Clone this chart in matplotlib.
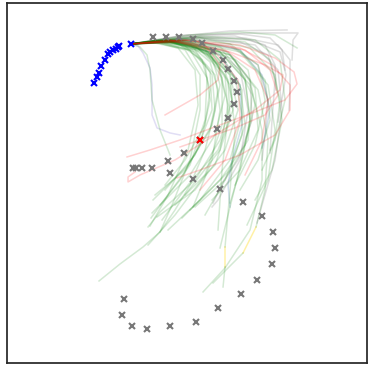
import matplotlib
matplotlib.use("Agg")
import matplotlib.pyplot as plt

# observed past track (blue) and ground-truth future (gray), metres
past_x = [9.43, 9.67, 9.85, 10.12, 10.5, 10.8, 11.0, 11.3, 11.55, 11.75, 11.93, 13.1]
past_y = [28.67, 29.3, 29.67, 30.44, 30.95, 31.62, 31.83, 31.97, 32.1, 32.25, 32.38, 32.57]

future_x = [15.33, 16.57, 17.9, 19.33, 20.23, 21.33, 22.33, 22.77, 23.43, 23.65, 23.43, 22.77,
            21.67, 20.0, 18.43, 16.83, 15.23, 14.15, 13.6, 13.25,
            17.0, 19.33, 22.0, 24.33, 26.23, 27.33, 27.53, 27.17, 25.73, 24.13, 21.83,
            19.57, 17.03, 14.7, 13.17, 12.23, 12.43]
future_y = [33.33, 33.33, 33.33, 33.07, 32.67, 31.9, 31.0, 30.07, 28.9, 27.75, 26.57, 25.17,
            24.07, 23.0, 21.73, 20.87, 20.23, 20.23, 20.17, 20.17,
            19.67, 19.07, 18.07, 16.77, 15.4, 13.77, 12.17, 10.57, 9.0, 7.57, 6.17,
            4.77, 4.37, 4.07, 4.37, 5.5, 7.07]

current_x = [20.0]
current_y = [23.0]

# sampled predictions
green_paths = [
    [(13.1, 32.6), (16.5, 33.0), (19.5, 32.0), (21.2, 29.5), (21.5, 26.0), (20.5, 22.0), (19.0, 18.5),
     (17.5, 16.0), (16.0, 13.8), (14.3, 12.3), (12.0, 10.6), (9.9, 8.9)],
    [(13.1, 32.6), (16.5, 33.0), (20.0, 32.2), (22.5, 30.0), (23.2, 27.0), (22.0, 23.0), (19.5, 19.0),
     (16.0, 15.8), (14.8, 14.3)],
    [(13.1, 32.6), (16.0, 32.9), (19.5, 32.4), (21.8, 30.5), (22.5, 27.5), (21.5, 23.5), (19.0, 19.5),
     (15.2, 15.7)],
    [(13.1, 32.6), (15.8, 33.0), (19.0, 32.6), (21.2, 31.2), (22.0, 28.5), (21.2, 24.5), (18.8, 20.5),
     (15.3, 17.0)],
    [(13.1, 32.6), (16.5, 32.9), (20.5, 32.0), (23.0, 29.5), (23.8, 26.0), (22.5, 22.0), (19.5, 18.0),
     (15.7, 15.3)],
    [(13.1, 32.6), (17.0, 33.0), (21.0, 32.0), (23.5, 29.2), (24.2, 25.5), (23.0, 21.0), (20.0, 17.0),
     (16.8, 14.0)],
    [(13.1, 32.6), (17.2, 32.8), (21.5, 31.5), (24.0, 28.5), (24.5, 24.5), (23.0, 20.0), (18.2, 15.2)],
    [(13.1, 32.6), (16.0, 32.8), (19.5, 31.8), (21.5, 29.5), (22.0, 26.0), (21.2, 21.0), (19.3, 16.3)],
    [(13.1, 32.6), (17.5, 33.0), (22.0, 31.8), (25.0, 28.5), (26.2, 24.0), (26.2, 19.0), (25.0, 14.0),
     (22.5, 10.2), (20.3, 7.8)],
    [(13.1, 32.6), (18.0, 32.9), (23.0, 31.5), (25.8, 28.0), (26.8, 23.0), (26.5, 18.0), (25.6, 14.3)],
    [(24.3, 11.7), (21.3, 8.7)],
    [(13.1, 32.6), (17.0, 32.8), (21.0, 31.5), (23.0, 28.5), (23.5, 24.0), (23.0, 18.0), (22.5, 12.3)],
    [(22.5, 10.3), (22.3, 8.3)],
    [(13.1, 32.6), (16.5, 33.0), (20.5, 32.2), (22.5, 29.5), (22.8, 25.5), (22.2, 20.0), (21.8, 14.0)],
    [(13.1, 32.6), (18.5, 33.0), (24.0, 31.8), (26.8, 28.5), (27.5, 24.0), (26.8, 19.0), (24.7, 14.5)],
    [(13.1, 32.6), (17.5, 32.9), (22.0, 31.8), (24.5, 29.0), (25.0, 25.0), (23.8, 19.5), (22.8, 15.5),
     (22.0, 12.2)],
    [(13.1, 32.6), (15.5, 32.8), (18.5, 32.0), (20.0, 29.5), (20.0, 26.0), (19.0, 21.0), (17.2, 16.5),
     (16.0, 13.8)],
    [(13.1, 32.6), (15.0, 32.8), (17.8, 32.2), (19.5, 30.0), (19.8, 26.5), (18.8, 22.0), (16.8, 17.5),
     (15.0, 14.4)],
    [(13.1, 32.6), (15.8, 32.7), (19.0, 32.0), (20.7, 29.2), (20.5, 25.0), (19.0, 20.5), (15.1, 15.2)],
    [(13.1, 32.6), (16.8, 32.9), (20.5, 32.0), (22.2, 29.2), (22.2, 24.5), (20.5, 19.5), (17.5, 15.5),
     (14.8, 12.5)],
    [(13.1, 32.6), (19.0, 32.8), (23.5, 31.0), (25.2, 27.5), (24.8, 23.0), (22.5, 19.0), (19.5, 16.3)],
    [(13.1, 32.6), (18.0, 33.0), (22.2, 32.0), (24.5, 29.2), (25.0, 25.0), (24.0, 20.0), (23.0, 16.7)],
    [(13.1, 32.6), (20.0, 33.2), (25.0, 32.2), (27.5, 29.5), (28.2, 25.0), (27.2, 20.0), (25.5, 17.0)],
    [(13.1, 32.6), (19.5, 33.3), (24.5, 32.8), (27.0, 31.0), (28.0, 27.0), (27.5, 23.0), (26.2, 20.0)],
    [(13.1, 32.6), (19.0, 33.5), (24.0, 33.8), (27.5, 33.5), (29.7, 32.2)],
    [(13.1, 32.6), (14.0, 32.3), (14.7, 31.5), (15.0, 30.0), (15.2, 27.0), (16.0, 24.0), (17.0, 21.5)],
    [(13.1, 32.6), (16.8, 32.8), (20.8, 31.8), (22.8, 29.0), (23.0, 25.0), (21.5, 20.5), (17.5, 16.5)],
    [(13.1, 32.6), (16.2, 32.9), (19.8, 32.2), (22.0, 30.0), (22.8, 26.5), (22.0, 22.0), (18.5, 17.5)],
    [(13.1, 32.6), (17.8, 32.8), (22.2, 31.4), (24.2, 28.0), (24.2, 23.5), (22.5, 19.0), (20.5, 15.5)],
    [(13.1, 32.6), (16.0, 32.8), (19.2, 32.0), (21.0, 29.8), (21.2, 26.0), (19.5, 21.5), (16.5, 18.0)],
    [(13.1, 32.6), (18.5, 32.9), (23.0, 31.5), (25.5, 28.2), (25.8, 24.0), (24.0, 20.0), (21.2, 17.0)],
    [(13.1, 32.6), (19.0, 33.0), (24.0, 32.0), (26.5, 29.0), (27.0, 25.0), (25.8, 21.0), (24.0, 18.0)],
    [(13.1, 32.6), (15.5, 32.9), (18.5, 32.4), (20.5, 30.5), (21.0, 27.0), (20.0, 22.5), (18.0, 19.0),
     (16.0, 16.5)],
    [(13.1, 32.6), (20.0, 33.4), (25.5, 33.0), (28.0, 31.0), (28.5, 27.0), (27.8, 24.0), (27.0, 22.0)],
    [(13.1, 32.6), (16.0, 33.0), (19.0, 32.5), (21.0, 30.8), (21.8, 28.0), (21.0, 24.0), (18.5, 20.0),
     (15.5, 17.5)],
    [(13.1, 32.6), (17.0, 32.9), (21.0, 31.8), (23.0, 29.5), (23.3, 26.0), (21.8, 22.0), (18.8, 18.5),
     (16.2, 15.0)],
    [(13.1, 32.6), (17.5, 33.1), (22.0, 32.3), (24.8, 30.0), (25.5, 26.5), (24.5, 22.5), (22.0, 19.0),
     (19.0, 16.0)],
    [(13.1, 32.6), (15.2, 32.9), (18.0, 32.5), (20.2, 31.0), (21.0, 28.0), (20.5, 24.5), (18.5, 21.0),
     (16.5, 18.5)],
    [(13.1, 32.6), (18.0, 33.2), (23.0, 32.6), (25.8, 30.5), (26.5, 27.0), (25.5, 22.5), (23.5, 18.5)],
]

red_paths = [
    [(13.1, 32.6), (18.0, 33.0), (24.0, 32.5), (27.5, 31.2), (29.4, 29.8), (29.7, 28.6), (28.5, 27.0),
     (25.5, 25.8), (22.0, 24.5), (18.0, 23.0), (15.0, 22.0), (12.7, 21.3)],
    [(13.1, 32.6), (17.5, 32.8), (23.0, 31.8), (26.5, 30.5), (28.3, 29.5), (28.0, 28.0), (25.5, 26.0),
     (21.5, 23.5), (17.5, 21.0), (14.0, 19.5), (12.8, 18.8), (12.8, 19.3), (13.5, 19.8)],
    [(13.1, 32.6), (17.0, 33.0), (20.5, 32.5), (22.0, 30.5), (21.8, 29.0), (20.0, 27.5), (16.5, 25.5)],
    [(13.1, 32.6), (19.0, 33.0), (24.5, 32.0), (27.0, 30.0), (27.8, 27.5), (26.5, 25.5), (23.5, 24.2),
     (20.0, 23.0), (18.0, 22.3)],
    [(13.1, 32.6), (18.5, 33.0), (24.0, 32.2), (27.2, 30.5), (29.0, 28.5), (29.0, 26.0), (27.5, 23.5),
     (24.0, 21.5), (20.0, 20.0), (17.7, 19.2)],
    [(13.1, 32.6), (17.0, 33.0), (21.5, 31.8), (23.8, 29.0), (24.0, 25.0), (22.5, 21.0), (20.0, 18.0)],
    [(13.1, 32.6), (18.0, 32.8), (22.5, 32.0), (25.5, 30.0), (26.8, 27.0), (26.2, 23.0), (24.5, 19.5)],
]

gray_paths = [
    [(13.1, 32.6), (18.0, 33.4), (23.0, 33.9), (28.7, 34.0)],
    [(13.1, 32.6), (19.0, 33.4), (25.0, 33.7), (29.8, 33.7), (29.3, 33.0), (29.2, 31.0)],
    [(13.1, 32.6), (19.0, 33.2), (24.5, 33.2), (27.8, 32.5), (29.0, 31.0), (29.0, 28.2), (28.9, 26.0)],
    [(13.1, 32.6), (18.5, 33.1), (24.0, 32.8), (26.8, 31.5), (27.5, 29.0), (27.2, 25.0), (27.0, 21.7)],
    [(13.1, 32.6), (17.5, 33.0), (23.0, 32.4), (25.8, 30.5), (26.8, 27.0), (26.5, 23.5), (26.2, 21.0)],
    [(13.1, 32.6), (17.0, 33.0), (21.5, 32.2), (24.0, 30.0), (24.8, 26.0), (24.0, 21.0), (21.8, 17.0),
     (21.2, 16.3)],
    [(13.1, 32.6), (19.5, 33.3), (25.0, 33.0), (28.0, 31.8), (28.6, 29.5), (28.0, 26.0), (27.8, 24.8)],
    [(13.1, 32.6), (18.0, 32.9), (22.8, 31.8), (25.0, 29.0), (25.2, 25.0), (23.8, 21.0), (22.4, 19.0),
     (21.3, 16.7)],
    [(13.1, 32.6), (20.0, 33.2), (25.5, 32.5), (27.8, 30.0), (28.2, 26.0), (27.5, 21.0), (26.2, 16.5),
     (25.7, 14.7)],
    [(13.1, 32.6), (18.5, 33.5), (24.0, 33.6), (27.0, 33.2), (28.2, 32.0), (28.5, 30.0)],
    [(13.1, 32.6), (18.0, 33.3), (23.5, 33.4), (26.5, 32.5), (27.5, 30.5), (27.6, 28.0)],
]

blue_paths = [
    [(13.1, 32.6), (19.0, 33.0), (24.0, 32.0), (26.2, 29.5), (27.0, 26.0), (26.5, 23.5), (26.2, 22.2)],
    [(13.1, 32.6), (17.5, 32.8), (22.0, 31.5), (24.0, 28.5), (24.2, 24.5), (23.2, 21.0), (22.8, 18.5),
     (23.0, 16.3)],
]

purple_paths = [
    [(13.1, 32.6), (13.8, 32.4), (14.3, 31.7), (15.0, 30.2), (15.2, 28.5), (15.2, 25.5), (15.7, 24.2),
     (17.0, 23.7), (18.0, 23.5)],
]

yellow_paths = [
    [(25.6, 14.3), (24.3, 11.7)],
    [(22.5, 12.3), (22.5, 10.3)],
]

fig, ax = plt.subplots(figsize=(3.7, 3.7), dpi=100)
fig.subplots_adjust(left=0.019, right=0.992, bottom=0.019, top=0.992)

def draw(paths, color, alpha):
    for p in paths:
        xs = [pt[0] for pt in p]
        ys = [pt[1] for pt in p]
        ax.plot(xs, ys, color=color, alpha=alpha, lw=1.1)

draw(gray_paths, "gray", 0.25)
draw(blue_paths, "steelblue", 0.25)
draw(purple_paths, "slateblue", 0.2)
draw(yellow_paths, "gold", 0.35)
draw(green_paths, "green", 0.17)
draw(red_paths, "red", 0.18)

ax.plot(future_x, future_y, "x", color="#777777", ms=5, mew=1.5, ls="none")
ax.plot(past_x, past_y, "x", color="blue", ms=5, mew=1.5, ls="none")
ax.plot(current_x, current_y, "x", color="red", ms=5, mew=1.5, ls="none")

ax.set_xlim(0.7, 36.7)
ax.set_ylim(0.7, 36.7)
ax.set_xticks([])
ax.set_yticks([])
for s in ax.spines.values():
    s.set_color("#262626")
    s.set_linewidth(1.25)

plt.savefig("out.png")
